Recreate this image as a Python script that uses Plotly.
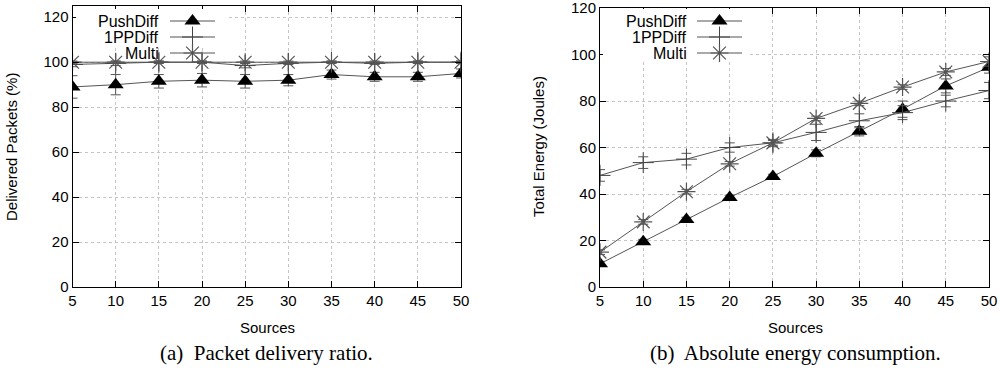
import plotly.graph_objects as go

# ---------------- data ----------------
sources = [5, 10, 15, 20, 25, 30, 35, 40, 45, 50]
x_ticks = [5, 10, 15, 20, 25, 30, 35, 40, 45, 50]
y_ticks = [0, 20, 40, 60, 80, 100, 120]

pdr_push = [89, 90, 91.5, 92, 91.5, 92, 94.5, 93.5, 93.5, 95]
pdr_push_err = [5, 4.5, 3, 3, 3, 2.5, 2, 2, 2, 2]
pdr_1pp = [99, 99.5, 100, 100, 98.5, 99.5, 100, 99.5, 100, 100]
pdr_1pp_err = [1, 1, 0.5, 0.5, 1, 0.5, 0.5, 0.5, 0.5, 0.5]
pdr_multi = [100, 100, 100, 100, 100, 100, 100, 100, 100, 100]
pdr_multi_err = [0.5, 0.5, 0.5, 0.5, 0.5, 0.5, 0.5, 0.5, 0.5, 0.5]

en_push = [10, 19.5, 29, 38.5, 47.5, 57.5, 67, 76.5, 86.5, 94.5]
en_push_err = [1, 1, 1, 1, 1, 1.5, 2, 3.5, 3, 2.5]
en_1pp = [48, 53.5, 55, 60, 62, 66.5, 71.5, 75, 80, 84.5]
en_1pp_err = [2.5, 2.5, 2.5, 2, 1.5, 3.5, 3, 3, 2.5, 3.5]
en_multi = [15, 28, 41, 53, 62, 72.5, 79, 86, 92.5, 97]
en_multi_err = [1, 1, 1, 1, 1, 1, 1, 1, 1.5, 2]

series_names = ["PushDiff", "1PPDiff", "Multi"]

# ---------------- styles ----------------
W, H = 1000, 371
LINE_COL = "#555555"
FONT = "Liberation Sans, Arial, Helvetica, sans-serif"
SERIF = "Liberation Serif, Times New Roman, serif"
styles = {
    "PushDiff": dict(symbol="triangle-up", size=14, color="black",
                     line=dict(width=0, color="black")),
    "1PPDiff": dict(symbol="cross-thin-open", size=15, color="#444444",
                    line=dict(width=1, color="#444444")),
    "Multi": dict(symbol="asterisk-open", size=15, color="#555555",
                  line=dict(width=1.2, color="#555555")),
}

fig = go.Figure()

def add_series(xa, ya, y, err, name):
    fig.add_trace(go.Scatter(
        x=sources, y=y, mode="lines+markers", name=name,
        xaxis=xa, yaxis=ya, showlegend=False,
        line=dict(color=LINE_COL, width=1),
        marker=styles[name],
        error_y=dict(type="data", array=err, visible=True,
                     color="#555555", thickness=1, width=5),
    ))

left = [(pdr_push, pdr_push_err), (pdr_1pp, pdr_1pp_err), (pdr_multi, pdr_multi_err)]
right = [(en_push, en_push_err), (en_1pp, en_1pp_err), (en_multi, en_multi_err)]
for (y, e), n in zip(left, series_names):
    add_series("x", "y", y, e, n)
for (y, e), n in zip(right, series_names):
    add_series("x2", "y2", y, e, n)

# ---------------- custom legends (text right-aligned, sample on right) ----------------
legend_rows = [21, 37, 53]
legend_specs = [(161, 170, 215, 76, 226, 47), (689, 697, 742, 603, 748, 60)]
for tx, sx0, sx1, bx0, bx1, by1 in legend_specs:
    # white background box hiding the grid behind the legend
    fig.add_trace(go.Scatter(
        x=[bx0, bx1, bx1, bx0, bx0], y=[9, 9, by1, by1, 9], mode="lines",
        fill="toself", fillcolor="white", line=dict(width=0, color="white"),
        xaxis="x3", yaxis="y3", showlegend=False, hoverinfo="skip"))
    for name, ly in zip(series_names, legend_rows):
        fig.add_trace(go.Scatter(
            x=[sx0, sx1], y=[ly, ly], mode="lines", xaxis="x3", yaxis="y3",
            line=dict(color=LINE_COL, width=1), showlegend=False, hoverinfo="skip"))
        fig.add_trace(go.Scatter(
            x=[(sx0 + sx1) / 2], y=[ly], mode="markers", xaxis="x3", yaxis="y3",
            marker=styles[name], showlegend=False, hoverinfo="skip"))
        fig.add_annotation(x=tx, y=ly, xref="x3", yref="y3", text=name,
                           showarrow=False, xanchor="right", yanchor="middle",
                           font=dict(family=FONT, size=16, color="black"))

# ---------------- axes ----------------
Ldom = [72.5 / W, 461 / W]
Rdom = [600 / W, 989 / W]
Lydom = [1 - 287 / H, 1 - 6 / H]
Rydom = [1 - 287 / H, 1 - 8 / H]

axis_common = dict(
    showline=True, linecolor="black", linewidth=1, mirror="ticks",
    ticks="inside", ticklen=6, tickcolor="black", tickwidth=1,
    showgrid=True, gridcolor="#c4c4c4", griddash="dot", gridwidth=1,
    zeroline=False, automargin=False, ticklabeloverflow="allow",
    tickfont=dict(family=FONT, size=15, color="black"),
)

fig.update_layout(
    width=W, height=H, margin=dict(l=0, r=0, t=0, b=0, autoexpand=False),
    paper_bgcolor="white", plot_bgcolor="rgba(0,0,0,0)",
    xaxis=dict(domain=Ldom, range=[5, 50], tickvals=x_ticks, anchor="y", **axis_common),
    yaxis=dict(domain=Lydom, range=[0, 125], tickvals=y_ticks, anchor="x", **axis_common),
    xaxis2=dict(domain=Rdom, range=[5, 50], tickvals=x_ticks, anchor="y2", **axis_common),
    yaxis2=dict(domain=Rydom, range=[0, 120.01], tickvals=y_ticks, anchor="x2", **axis_common),
    xaxis3=dict(domain=[0, 1], range=[0, W], visible=False, anchor="y3",
                fixedrange=True, automargin=False),
    yaxis3=dict(domain=[0, 1], range=[H, 0], visible=False, anchor="x3",
                fixedrange=True, automargin=False),
)

# axis titles and captions
def ann(x, y, text, size=15, family=FONT, angle=0):
    fig.add_annotation(x=x, y=y, xref="paper", yref="paper", text=text, showarrow=False,
                       xanchor="center", yanchor="middle", textangle=angle,
                       font=dict(family=family, size=size, color="black"))

ann(11 / W, 1 - 147 / H, "Delivered Packets (%)", angle=-90)
ann(538 / W, 1 - 147 / H, "Total Energy (Joules)", angle=-90)
ann(267 / W, 1 - 327 / H, "Sources")
ann(795 / W, 1 - 327 / H, "Sources")
ann(266 / W, 1 - 353 / H, "(a)  Packet delivery ratio.", size=21, family=SERIF)
ann(795 / W, 1 - 353 / H, "(b)  Absolute energy consumption.", size=21, family=SERIF)

fig.write_html("out.html", config={"displayModeBar": False},
               post_script="document.body.style.margin='0';document.body.style.padding='0';")
